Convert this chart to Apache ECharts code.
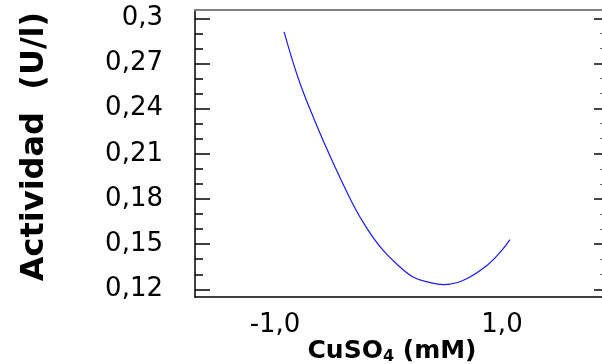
<!DOCTYPE html>
<html>
<head>
<meta charset="utf-8">
<script src="https://cdn.jsdelivr.net/npm/echarts@6/dist/echarts.min.js"></script>
<style>
  html, body { margin: 0; padding: 0; background: #fff; }
  #chart { width: 602px; height: 364px; }
</style>
</head>
<body>
<div id="chart"></div>
<script>
// values
const cuso4 = [-0.92, -0.79, -0.65, -0.50, -0.31, -0.19, -0.06, 0.07, 0.22, 0.37, 0.48, 0.66, 0.87, 1.0, 1.07];
const actividad = [0.291, 0.259, 0.232, 0.206, 0.176, 0.1605, 0.147, 0.137, 0.128, 0.1244, 0.1231, 0.126, 0.136, 0.146, 0.153];
const xTicks = [-1, 1];
const yTicks = [0.12, 0.15, 0.18, 0.21, 0.24, 0.27, 0.3];
const yMinor = [0.13, 0.14, 0.16, 0.17, 0.19, 0.20, 0.22, 0.23, 0.25, 0.26, 0.28, 0.29];

const xMin = -1.705, xMax = 1.890;
const yMin = 0.1149, yMax = 0.3055;
const font = 'DejaVu Sans';

const comma = v => String(+v.toFixed(2)).replace('.', ',');

const myChart = echarts.init(document.getElementById('chart'));

const yBase = { type: 'value', min: yMin, max: yMax, splitLine: { show: false } };

myChart.setOption({
  animation: false,
  grid: { left: 195, right: -1, top: 10, bottom: 67, outerBoundsMode: 'none', containLabel: false },
  xAxis: [
    {
      type: 'value',
      min: xMin,
      max: xMax,
      splitLine: { show: false },
      axisLine: { onZero: false, lineStyle: { color: '#000', width: 1.5 } },
      axisTick: { show: false },
      axisLabel: {
        customValues: xTicks,
        margin: 15,
        color: '#000',
        fontFamily: font,
        fontSize: 26,
        formatter: v => v.toFixed(1).replace('.', ',')
      },
      name: '{b|CuSO}{s|4}{b| (mM)}',
      nameLocation: 'middle',
      nameGap: 40,
      nameMoveOverlap: false,
      nameTextStyle: {
        padding: [0, 14, 0, 0],
        rich: {
          b: { fontFamily: font, fontWeight: 'bold', fontSize: 25, color: '#000' },
          s: { fontFamily: font, fontWeight: 'bold', fontSize: 16, color: '#000', verticalAlign: 'bottom', padding: [12, 0, 0, 0] }
        }
      }
    },
    {
      type: 'value',
      position: 'top',
      min: xMin,
      max: xMax,
      splitLine: { show: false },
      axisLine: { onZero: false, lineStyle: { color: '#808080', width: 2 } },
      axisTick: { show: false },
      axisLabel: { show: false }
    }
  ],
  yAxis: [
    {
      ...yBase,
      position: 'left',
      axisLine: { show: true, onZero: false, lineStyle: { color: '#000', width: 1.5 } },
      axisTick: { inside: true, length: 15, customValues: yTicks, lineStyle: { color: '#000', width: 1.5 } },
      axisLabel: {
        customValues: yTicks,
        margin: 32,
        color: '#000',
        fontFamily: font,
        fontSize: 26,
        formatter: comma
      },
      name: 'Actividad  (U/l)',
      nameLocation: 'middle',
      nameRotate: 90,
      nameGap: 144,
      nameMoveOverlap: false,
      nameTextStyle: { fontFamily: font, fontWeight: 'bold', fontSize: 32, color: '#000', padding: [0, 0, 0, 14] }
    },
    {
      ...yBase,
      position: 'left',
      axisLine: { show: false, onZero: false },
      axisTick: { inside: true, length: 8, customValues: yMinor, lineStyle: { color: '#000', width: 1.5 } },
      axisLabel: { show: false }
    },
    {
      ...yBase,
      position: 'right',
      axisLine: { show: false, onZero: false },
      axisTick: { inside: true, length: 9, customValues: yTicks, lineStyle: { color: '#444', width: 2 } },
      axisLabel: { show: false }
    },
    {
      ...yBase,
      position: 'right',
      axisLine: { show: false, onZero: false },
      axisTick: { inside: true, length: 3, customValues: yMinor, lineStyle: { color: '#666', width: 1 } },
      axisLabel: { show: false }
    }
  ],
  series: [
    {
      type: 'line',
      xAxisIndex: 0,
      yAxisIndex: 0,
      data: cuso4.map((x, i) => [x, actividad[i]]),
      smooth: 0.4,
      symbol: 'none',
      lineStyle: { color: '#1a1aff', width: 1.2 }
    }
  ]
});
</script>
</body>
</html>
